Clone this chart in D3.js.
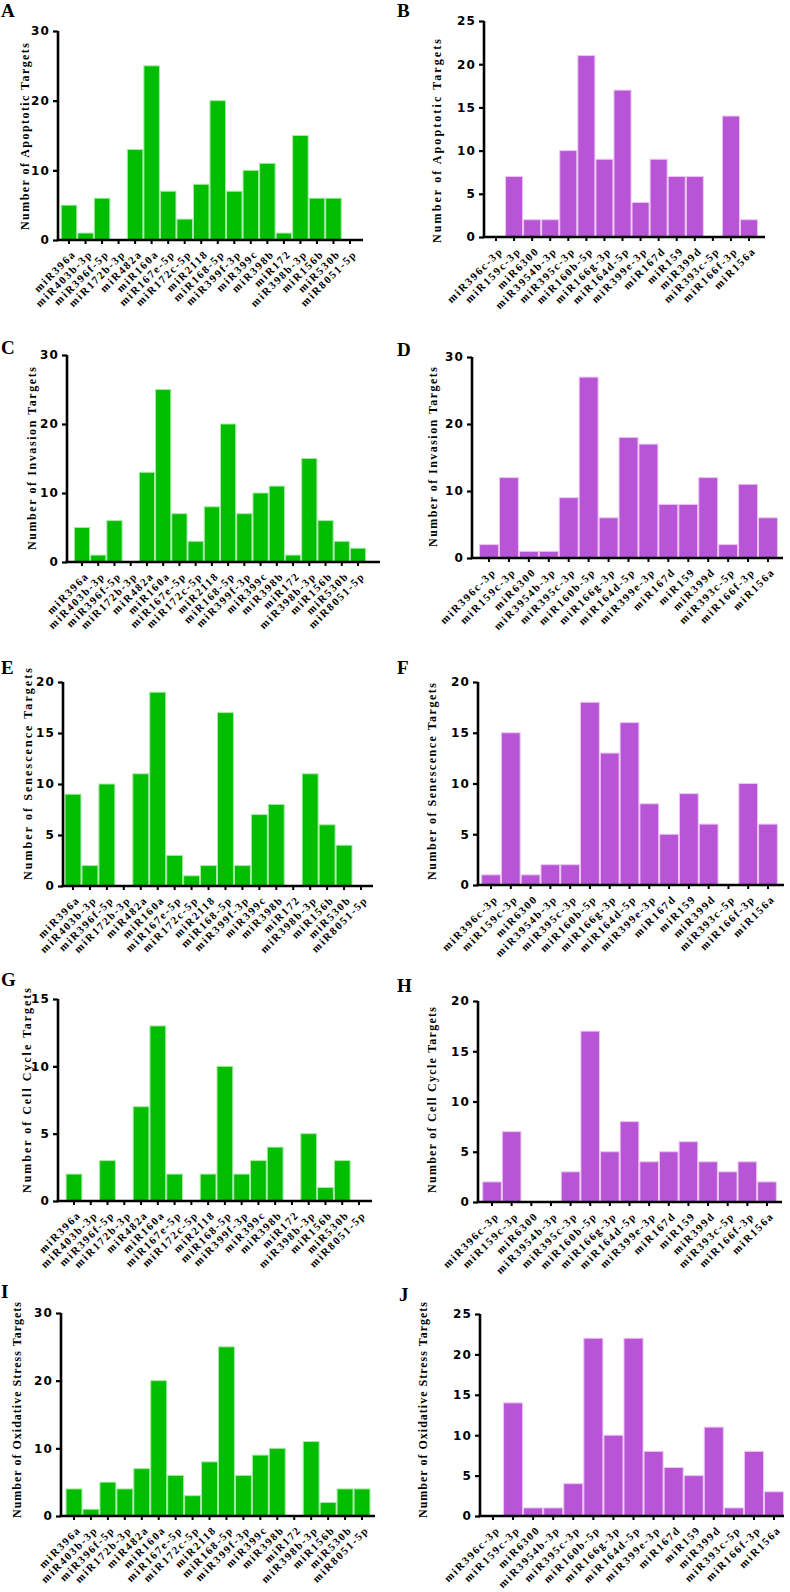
<!DOCTYPE html>
<html><head><meta charset="utf-8">
<script src="https://cdn.jsdelivr.net/npm/d3@7"></script>
<style>body{margin:0;background:#fff}svg{display:block}</style>
</head><body>
<script>
// ---- data ----
const mirsGreen = ["miR396a","miR403b-3p","miR396f-5p","miR172b-3p","miR482a","miR160a","miR167e-5p","miR172c-5p","miR2118","miR168-5p","miR399f-3p","miR399c","miR398b","miR172","miR398b-3p","miR156b","miR530b","miR8051-5p"];
const mirsPurple = ["miR396c-3p","miR159c-3p","miR6300","miR3954b-3p","miR395c-3p","miR160b-5p","miR166g-3p","miR164d-5p","miR399e-3p","miR167d","miR159","miR399d","miR393c-5p","miR166f-3p","miR156a"];
const apoptoticA = [5,1,6,0,13,25,7,3,8,20,7,10,11,1,15,6,6,0];
const apoptoticB = [0,7,2,2,10,21,9,17,4,9,7,7,0,14,2];
const invasionC = [5,1,6,0,13,25,7,3,8,20,7,10,11,1,15,6,3,2];
const invasionD = [2,12,1,1,9,27,6,18,17,8,8,12,2,11,6];
const senescenceE = [9,2,10,0,11,19,3,1,2,17,2,7,8,0,11,6,4,0];
const senescenceF = [1,15,1,2,2,18,13,16,8,5,9,6,0,10,6];
const cellCycleG = [2,0,3,0,7,13,2,0,2,10,2,3,4,0,5,1,3,0];
const cellCycleH = [2,7,0,0,3,17,5,8,4,5,6,4,3,4,2];
const oxidativeI = [4,1,5,4,7,20,6,3,8,25,6,9,10,0,11,2,4,4];
const oxidativeJ = [0,14,1,1,4,22,10,22,8,6,5,11,1,8,3];
const yTicks30 = [0,10,20,30];
const yTicks25 = [0,5,10,15,20,25];
const yTicks20 = [0,5,10,15,20];
const yTicks15 = [0,5,10,15];
const titles = {
  A:"Number of Apoptotic Targets", B:"Number of Apoptotic Targets",
  C:"Number of Invasion Targets", D:"Number of Invasion Targets",
  E:"Number of Senescence Targets", F:"Number of Senescence Targets",
  G:"Number of Cell Cycle Targets", H:"Number of Cell Cycle Targets",
  I:"Number of Oxidative Stress Targets", J:"Number of Oxidative Stress Targets"
};

// ---- layout ----
const GREEN = "#00bd00", GREEN_S = "#a6eaa6";
const PURPLE = "#b855d6", PURPLE_S = "#ecc6f2";
const panels = [
  {id:"A", cats:mirsGreen, vals:apoptoticA, ticks:yTicks30, fill:GREEN, stroke:GREEN_S, ax:58, y0:240, yTop:31, xEnd:363, first:69, last:350, tx:25, t0:43, t1:230, lx:1, ly:17},
  {id:"B", cats:mirsPurple, vals:apoptoticB, ticks:yTicks25, fill:PURPLE, stroke:PURPLE_S, ax:484, y0:237, yTop:21, xEnd:765, first:496, last:749, tx:437, t0:39, t1:243, lx:397, ly:17},
  {id:"C", cats:mirsGreen, vals:invasionC, ticks:yTicks30, fill:GREEN, stroke:GREEN_S, ax:67, y0:562, yTop:355, xEnd:380, first:82, last:358, tx:32, t0:367, t1:550, lx:1, ly:354},
  {id:"D", cats:mirsPurple, vals:invasionD, ticks:yTicks30, fill:PURPLE, stroke:PURPLE_S, ax:472, y0:558, yTop:357, xEnd:783, first:489, last:768, tx:433, t0:367, t1:547, lx:397, ly:356},
  {id:"E", cats:mirsGreen, vals:senescenceE, ticks:yTicks20, fill:GREEN, stroke:GREEN_S, ax:63, y0:886, yTop:682, xEnd:373, first:73, last:361, tx:28, t0:668, t1:880, lx:1, ly:674},
  {id:"F", cats:mirsPurple, vals:senescenceF, ticks:yTicks20, fill:PURPLE, stroke:PURPLE_S, ax:478, y0:885, yTop:682, xEnd:784, first:491, last:768, tx:432, t0:683, t1:880, lx:397, ly:674},
  {id:"G", cats:mirsGreen, vals:cellCycleG, ticks:yTicks15, fill:GREEN, stroke:GREEN_S, ax:58, y0:1201, yTop:999, xEnd:372, first:74, last:359, tx:27, t0:988, t1:1193, lx:1, ly:986},
  {id:"H", cats:mirsPurple, vals:cellCycleH, ticks:yTicks20, fill:PURPLE, stroke:PURPLE_S, ax:478, y0:1202, yTop:1001, xEnd:782, first:492, last:767, tx:432, t0:1007, t1:1193, lx:397, ly:992},
  {id:"I", cats:mirsGreen, vals:oxidativeI, ticks:yTicks30, fill:GREEN, stroke:GREEN_S, ax:61, y0:1516, yTop:1313, xEnd:375, first:74, last:362, tx:17, t0:1302, t1:1518, lx:1, ly:1298},
  {id:"J", cats:mirsPurple, vals:oxidativeJ, ticks:yTicks25, fill:PURPLE, stroke:PURPLE_S, ax:480, y0:1516, yTop:1314, xEnd:784, first:493, last:774, tx:423, t0:1302, t1:1518, lx:399, ly:1301}
];

const svg = d3.select("body").append("svg").attr("width",790).attr("height",1592);

panels.forEach(p => {
  const g = svg.append("g");
  const n = p.cats.length;
  const step = (p.last - p.first) / (n - 1);
  const x = d3.scaleBand().domain(p.cats).range([p.first - step/2, p.last + step/2]).padding(0);
  const yMax = p.ticks[p.ticks.length-1];
  const y = d3.scaleLinear().domain([0, yMax]).range([p.y0, p.yTop]);

  // bars
  g.selectAll("rect.bar").data(p.cats.map((c,i)=>({c, v:p.vals[i]}))).enter()
    .append("rect").attr("class","bar")
    .attr("x", d => x(d.c) + 0.5)
    .attr("width", x.bandwidth() - 1)
    .attr("y", d => y(d.v))
    .attr("height", d => p.y0 - y(d.v))
    .attr("fill", p.fill).attr("stroke", p.stroke).attr("stroke-width", 1);

  // y axis
  const yAxis = d3.axisLeft(y).tickValues(p.ticks).tickSize(5).tickPadding(3).tickFormat(d3.format("d"));
  const ya = g.append("g").attr("transform", `translate(${p.ax},0)`).call(yAxis);
  ya.attr("font-family", null).attr("font-size", null);
  ya.select(".domain").attr("stroke","#000").attr("stroke-width",2.6).attr("d", `M0,${p.y0}V${p.yTop}`);
  ya.selectAll(".tick line").attr("stroke","#000").attr("stroke-width",2.2);
  ya.selectAll(".tick text").attr("fill","#000")
    .style("font-family","'DejaVu Sans', sans-serif").style("font-weight","bold")
    .style("font-size","12px").style("letter-spacing","1.2px");

  // x axis
  const xAxis = d3.axisBottom(x).tickSize(4).tickSizeOuter(0).tickFormat("");
  const xa = g.append("g").attr("transform", `translate(0,${p.y0})`).call(xAxis);
  xa.select(".domain").attr("stroke","#000").attr("stroke-width",2.6).attr("d", `M${p.ax - 1.3},0H${p.xEnd}`);
  xa.selectAll(".tick line").attr("stroke","#000").attr("stroke-width",2).attr("y1",1);

  // rotated category labels
  g.selectAll("text.xl").data(p.cats).enter().append("text").attr("class","xl")
    .attr("transform", d => `translate(${x(d) + x.bandwidth()/2 + 2},${p.y0 + 9}) rotate(-45)`)
    .attr("text-anchor","end")
    .attr("dominant-baseline","hanging")
    .style("font-family","'Liberation Serif', 'Times New Roman', serif").style("font-weight","bold")
    .style("font-size","11px").style("letter-spacing","1.7px")
    .text(d => d);

  // y title
  const tc = (p.t0 + p.t1) / 2;
  g.append("text")
    .attr("transform", `translate(${p.tx},${tc}) rotate(-90)`)
    .attr("text-anchor","middle").attr("dominant-baseline","central")
    .attr("textLength", p.t1 - p.t0).attr("lengthAdjust","spacing")
    .style("font-family","'Liberation Serif', 'Times New Roman', serif").style("font-weight","bold")
    .style("font-size","12px")
    .text(titles[p.id]);

  // panel letter
  g.append("text").attr("x", p.lx).attr("y", p.ly)
    .style("font-family","'Liberation Serif', 'Times New Roman', serif").style("font-weight","bold")
    .style("font-size","19px")
    .text(p.id);
});
</script>
</body></html>
